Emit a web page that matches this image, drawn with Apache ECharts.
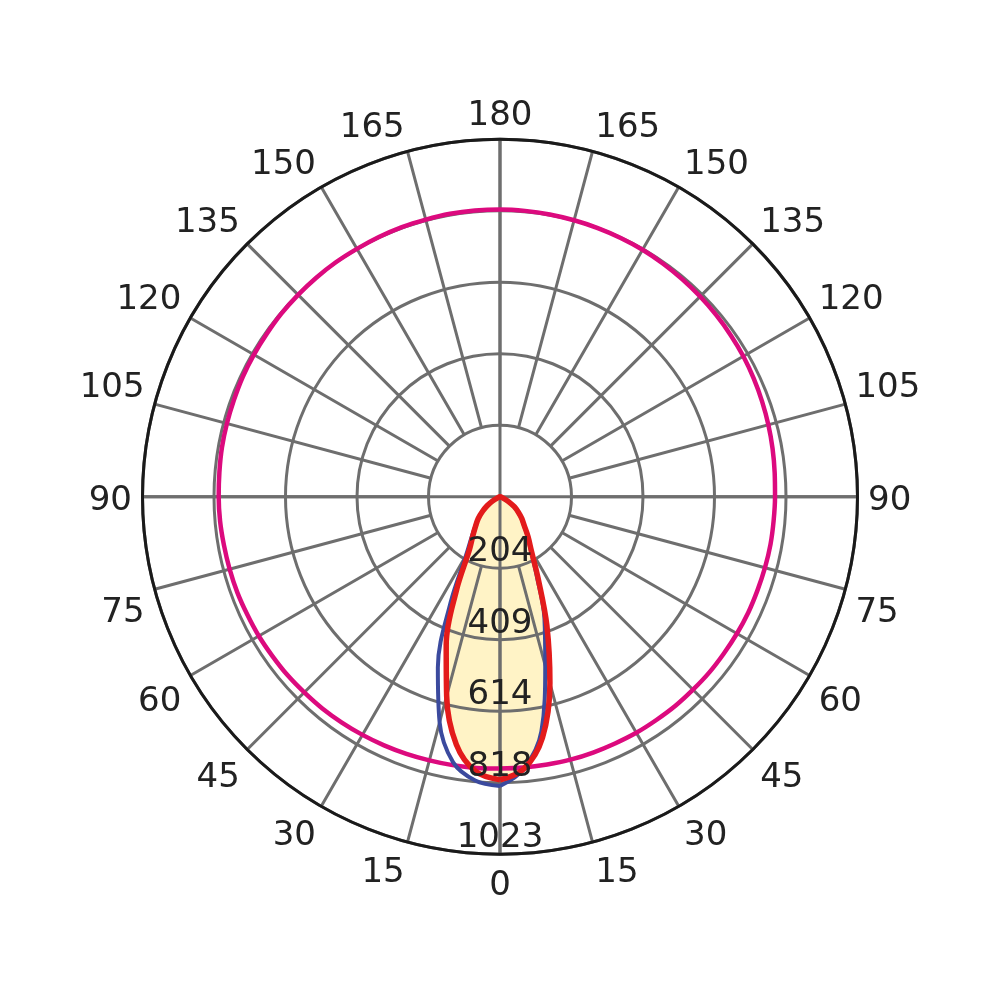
<!DOCTYPE html>
<html>
<head>
<meta charset="utf-8">
<script src="https://cdn.jsdelivr.net/npm/echarts@6/dist/echarts.min.js"></script>
<style>html,body{margin:0;padding:0;background:#fff}#c{width:1000px;height:1000px}</style>
</head>
<body>
<div id="c"></div>
<script>
// angles in degrees from nadir (0) to zenith (180), for each half-plane
const angles = [0,5,10,15,20,25,30,35,40,45,50,55,60,65,70,75,80,85,90,95,100,105,110,115,120,125,130,135,140,145,150,155,160,165,170,175,180];
// red curve (left half / right half), cd values
const redLeft  = [810,790,720,590,450,294,175,135,108,88,65,45,25,8,0,0,0,0,0,0,0,0,0,0,0,0,0,0,0,0,0,0,0,0,0,0,0];
const redRight = [810,782,700,552,392,258,180,140,108,88,68,50,28,10,0,0,0,0,0,0,0,0,0,0,0,0,0,0,0,0,0,0,0,0,0,0,0];
// blue curve
const blueLeft  = [828,815,772,668,520,335,195,142,110,88,66,46,26,9,0,0,0,0,0,0,0,0,0,0,0,0,0,0,0,0,0,0,0,0,0,0,0];
const blueRight = [828,782,682,500,372,248,175,138,106,86,66,48,27,9,0,0,0,0,0,0,0,0,0,0,0,0,0,0,0,0,0,0,0,0,0,0,0];
// pink curve
const pinkLeft  = [778,779,780,781,783,785,787,789,791,792,794,795,797,798,800,801,802,804,805,806,808,809,810,812,813,814,816,817,818,819,819,820,821,821,822,822,822];
const pinkRight = [778,778,778,779,779,779,780,780,781,781,782,782,783,784,784,785,786,786,787,789,792,795,798,801,804,806,808,810,812,814,816,817,818,819,820,821,822];
// radial scale and labels
const radiusMax = 1023;
const ringStep = 204.6;
const ringLabels = ['204','409','614','818','1023'];
// angle tick positions (0..345 clockwise from nadir) and their labels
const angleTicks = [0,15,30,45,60,75,90,105,120,135,150,165,180,195,210,225,240,255,270,285,300,315,330,345];
const angleTickLabels = ['0','15','30','45','60','75','90','105','120','135','150','165','180','165','150','135','120','105','90','75','60','45','30','15'];

function loop(left, right) {
  const out = [];
  for (let i = 0; i < angles.length; i++) out.push([left[i], angles[i]]);
  for (let i = angles.length - 1; i >= 0; i--) out.push([right[i], 360 - angles[i]]);
  return out;
}

const chart = echarts.init(document.getElementById('c'), null, {renderer: 'canvas'});
const FONT = '"DejaVu Sans", Verdana, sans-serif';
const center = ['50%', 496.7];
const R = 357.5;
const grey = '#6e6e6e';
const labelRadius = radiusMax * 368 / R; // label anchor just outside the rim

function angleLabelItem(a, i) {
  const t = a * Math.PI / 180;
  const dx = -Math.sin(t), dy = Math.cos(t); // screen direction (clockwise from bottom)
  const align = dx < -0.01 ? 'right' : (dx > 0.01 ? 'left' : 'center');
  const valign = dy > 0.01 ? 'top' : (dy < -0.01 ? 'bottom' : 'middle');
  return {
    value: [labelRadius, a], name: angleTickLabels[i],
    label: {align: align, verticalAlign: valign}
  };
}

const option = {
  animation: false,
  backgroundColor: '#fff',
  polar: [
    {center: center, radius: [0, R]},
    {center: center, radius: [71.5, R]},
    {center: center, radius: [0, R]}
  ],
  angleAxis: [
    {
      polarIndex: 0, type: 'value', min: 0, max: 360, interval: 15,
      startAngle: 270, clockwise: true, z: 3,
      axisLine: {show: true, lineStyle: {color: '#1a1a1a', width: 3}},
      axisTick: {show: false},
      splitLine: {show: false},
      axisLabel: {show: false}
    },
    {
      polarIndex: 1, type: 'value', min: 0, max: 360, interval: 15,
      startAngle: 270, clockwise: true, z: 1,
      axisLine: {show: false}, axisTick: {show: false}, axisLabel: {show: false},
      splitLine: {show: true, lineStyle: {color: grey, width: 3}}
    },
    {
      polarIndex: 2, type: 'value', min: 0, max: 360, interval: 90,
      startAngle: 270, clockwise: true, z: 1,
      axisLine: {show: false}, axisTick: {show: false}, axisLabel: {show: false},
      splitLine: {show: true, lineStyle: {color: grey, width: 3}}
    }
  ],
  radiusAxis: [
    {
      polarIndex: 0, type: 'value', min: 0, max: radiusMax, interval: ringStep, z: 1,
      axisLine: {show: false}, axisTick: {show: false}, axisLabel: {show: false},
      splitLine: {show: true, lineStyle: {color: grey, width: 3}}
    },
    {
      polarIndex: 1, type: 'value', min: 0, max: radiusMax, z: 1,
      axisLine: {show: false}, axisTick: {show: false}, axisLabel: {show: false},
      splitLine: {show: false}
    },
    {
      polarIndex: 2, type: 'value', min: 0, max: radiusMax, z: 1,
      axisLine: {show: false}, axisTick: {show: false}, axisLabel: {show: false},
      splitLine: {show: false}
    }
  ],
  series: [
    {
      type: 'line', coordinateSystem: 'polar', polarIndex: 0, z: 0,
      data: loop(redLeft, redRight), smooth: 0.35, symbol: 'none',
      lineStyle: {width: 0, opacity: 0},
      areaStyle: {color: '#fff3c6', opacity: 1}
    },
    {
      type: 'line', coordinateSystem: 'polar', polarIndex: 0, z: 4,
      data: loop(pinkLeft, pinkRight), smooth: 0.35, symbol: 'none',
      lineStyle: {color: '#dc0a7e', width: 4.5}
    },
    {
      type: 'line', coordinateSystem: 'polar', polarIndex: 0, z: 5,
      data: loop(blueLeft, blueRight), smooth: 0.35, symbol: 'none',
      lineStyle: {color: '#3b4a9e', width: 4}
    },
    {
      type: 'line', coordinateSystem: 'polar', polarIndex: 0, z: 6,
      data: loop(redLeft, redRight), smooth: 0.35, symbol: 'none',
      lineStyle: {color: '#e31b1b', width: 5.5}
    },
    {
      type: 'scatter', coordinateSystem: 'polar', polarIndex: 0, z: 10,
      symbolSize: 0, clip: false, itemStyle: {opacity: 1},
      data: ringLabels.map((t, i) => ({value: [ringStep * (i + 1), 0], name: t})),
      label: {
        show: true, position: 'top', distance: 2, offset: [0, 3],
        fontSize: 34, fontFamily: FONT, color: '#222',
        formatter: p => p.name
      }
    },
    {
      type: 'scatter', coordinateSystem: 'polar', polarIndex: 0, z: 10,
      symbolSize: 0, clip: false, itemStyle: {opacity: 1},
      data: angleTicks.map(angleLabelItem),
      label: {
        show: true, position: [0, 0], offset: [0, 4],
        fontSize: 34, fontFamily: FONT, color: '#222',
        formatter: p => p.name
      }
    }
  ]
};
chart.setOption(option);
</script>
</body>
</html>
